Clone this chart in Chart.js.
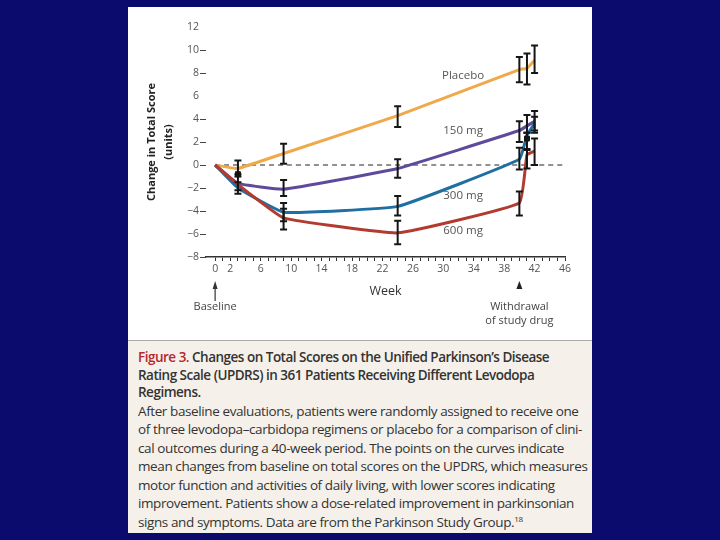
<!DOCTYPE html>
<html>
<head>
<meta charset="utf-8">
<script src="https://cdn.jsdelivr.net/npm/chart.js@4.4.1/dist/chart.umd.min.js"></script>
<style>
html, body { margin: 0; padding: 0; background: #0b0b6e; }
body { width: 720px; height: 540px; position: relative; overflow: hidden; }
#panel { position: absolute; left: 128px; top: 7px; width: 464px; height: 526px; background: #fff; }
#chartBox { position: absolute; left: 0; top: 0; width: 464px; height: 333px; }
#caption {
  position: absolute; left: 0; top: 333px; width: 464px; height: 193px;
  background: #f5f1ea; border-top: 1px solid #aaa; box-sizing: border-box;
  padding: 8px 0 0 10px; font-family: "Open Sans", sans-serif; color: #333; white-space: nowrap;
}
.ttl { font-size: 13.5px; font-weight: 600; line-height: 17.5px; letter-spacing: -0.5px; }
.fig { color: #b5282e; }
.txt { font-size: 13.5px; line-height: 18.5px; letter-spacing: -0.4px; }
sup { font-size: 8px; line-height: 0; vertical-align: 5px; }
</style>
</head>
<body>
<div id="panel">
  <div id="chartBox"><canvas id="myChart" width="464" height="333"></canvas></div>
  <div id="caption">
    <div class="ttl"><span class="fig">Figure 3.</span> Changes on Total Scores on the Unified Parkinson’s Disease<br>Rating Scale (UPDRS) in 361 Patients Receiving Different Levodopa<br>Regimens.</div>
    <div class="txt">After baseline evaluations, patients were randomly assigned to receive one<br>of three levodopa–carbidopa regimens or placebo for a comparison of clini-<br>cal outcomes during a 40-week period. The points on the curves indicate<br>mean changes from baseline on total scores on the UPDRS, which measures<br>motor function and activities of daily living, with lower scores indicating<br>improvement. Patients show a dose-related improvement in parkinsonian<br>signs and symptoms. Data are from the Parkinson Study Group.<sup>18</sup></div>
  </div>
</div>
<script>
// weeks of measurement
const weeks = [0, 3, 9, 24, 40, 41, 42]

// mean change in total score
const placebo = [0, -0.3, 1.0, 4.3, 8.3, 8.4, 9.1]
const mg150 = [0, -1.6, -2.1, -0.3, 3.0, 3.4, 3.8]
const mg300 = [0, -2.0, -4.1, -3.6, 0.5, 2.6, 3.6]
const mg600 = [0, -1.7, -4.6, -5.9, -3.3, 0.9, 1.2]

// error bar ends (null = no bar)
const placeboLow = [null, -1.0, 0.1, 3.3, 7.2, 7.0, 8.0]
const placeboHigh = [null, 0.4, 1.85, 5.1, 9.4, 9.7, 10.4]
const mg150Low = [null, null, -2.7, -1.1, 2.0, 2.8, 2.8]
const mg150High = [null, null, -1.3, 0.5, 3.8, 4.35, 4.7]
const mg300Low = [null, -2.5, -4.9, -4.4, -0.4, 1.4, 3.0]
const mg300High = [null, -1.5, -3.3, -2.7, 1.5, 2.8, 4.2]
const mg600Low = [null, -2.2, -5.6, -6.9, -4.4, -0.3, 0.0]
const mg600High = [null, -0.8, -3.8, -4.85, -2.3, 1.3, 2.3]

// filled square points
const markerWeeks = [3, 41]
const markerValues = [-0.8, 2.3]

// axes
const xTickWeeks = []
for (let w = 0; w <= 46; w++) xTickWeeks.push(w)
const xLabels = [0, 2, 6, 10, 14, 18, 22, 26, 30, 34, 38, 42, 46]
const yTicks = [-8, -6, -4, -2, 0, 2, 4, 6, 8, 10, 12]

const seriesNames = ['Placebo', '150 mg', '300 mg', '600 mg']

function pts(vals) {
    return weeks.map((w, i) => ({ x: w, y: vals[i] }))
}

const errorBars = {
    id: 'errorBars',
    afterDatasetsDraw(chart) {
        const { ctx, scales: { x, y } } = chart
        ctx.save()
        ctx.strokeStyle = '#151515'
        ctx.lineWidth = 2
        chart.data.datasets.forEach(ds => {
            if (!ds.errLow) return
            ds.data.forEach((p, i) => {
                const lo = ds.errLow[i], hi = ds.errHigh[i]
                if (lo == null) return
                const px = x.getPixelForValue(p.x)
                const yl = y.getPixelForValue(lo)
                const yh = y.getPixelForValue(hi)
                ctx.beginPath()
                ctx.moveTo(px, yl); ctx.lineTo(px, yh)
                ctx.moveTo(px - 3.5, yl); ctx.lineTo(px + 3.5, yl)
                ctx.moveTo(px - 3.5, yh); ctx.lineTo(px + 3.5, yh)
                ctx.stroke()
            })
        })
        ctx.restore()
    }
}

// curve names and the notes under the x axis
const notes = {
    id: 'notes',
    afterDraw(chart) {
        const { ctx, scales: { x, y } } = chart
        ctx.save()
        ctx.fillStyle = '#555'
        ctx.font = '11.5px "Open Sans"'
        ctx.textAlign = 'center'
        ctx.textBaseline = 'middle'
        const spots = [[32.6, 7.8], [32.6, 2.95], [32.6, -2.7], [32.6, -5.7]]
        seriesNames.forEach((n, i) => {
            ctx.fillText(n, x.getPixelForValue(spots[i][0]), y.getPixelForValue(spots[i][1]))
        })

        // baseline arrow
        ctx.fillStyle = '#333'
        ctx.strokeStyle = '#333'
        ctx.lineWidth = 1.2
        const bx = x.getPixelForValue(0)
        ctx.beginPath()
        ctx.moveTo(bx, 280); ctx.lineTo(bx, 294)
        ctx.stroke()
        ctx.beginPath()
        ctx.moveTo(bx, 274); ctx.lineTo(bx - 2.5, 282); ctx.lineTo(bx + 2.5, 282)
        ctx.closePath(); ctx.fill()
        ctx.fillStyle = '#444'
        ctx.font = '11px "Open Sans"'
        ctx.fillText('Baseline', bx, 300)

        // withdrawal marker
        const wx = x.getPixelForValue(40)
        ctx.fillStyle = '#222'
        ctx.beginPath()
        ctx.moveTo(wx, 274); ctx.lineTo(wx - 3, 282); ctx.lineTo(wx + 3, 282)
        ctx.closePath(); ctx.fill()
        ctx.fillStyle = '#444'
        ctx.fillText('Withdrawal', wx, 300)
        ctx.fillText('of study drug', wx, 314)
        ctx.restore()
    }
}

const ctx = document.getElementById('myChart')

new Chart(ctx, {
    type: 'line',
    data: {
        datasets: [
            {
                label: 'markers',
                data: markerWeeks.map((w, i) => ({ x: w, y: markerValues[i] })),
                showLine: false,
                pointStyle: 'rect',
                pointRadius: 3.5,
                backgroundColor: '#151515',
                borderColor: '#151515'
            },
            {
                label: seriesNames[3],
                data: pts(mg600),
                errLow: mg600Low, errHigh: mg600High,
                borderColor: '#b23a2f', borderWidth: 3
            },
            {
                label: seriesNames[2],
                data: pts(mg300),
                errLow: mg300Low, errHigh: mg300High,
                borderColor: '#1f6fa3', borderWidth: 3
            },
            {
                label: seriesNames[1],
                data: pts(mg150),
                errLow: mg150Low, errHigh: mg150High,
                borderColor: '#5d4a9b', borderWidth: 3
            },
            {
                label: seriesNames[0],
                data: pts(placebo),
                errLow: placeboLow, errHigh: placeboHigh,
                borderColor: '#f0a94a', borderWidth: 3
            },
            {
                label: 'zero',
                data: [{ x: 0, y: 0 }, { x: 46, y: 0 }],
                borderColor: '#222', borderWidth: 1, borderDash: [5, 4]
            }
        ]
    },
    options: {
        responsive: false,
        animation: false,
        elements: {
            line: { tension: 0.1, fill: false },
            point: { radius: 0 }
        },
        layout: { padding: { top: 20, right: 27, bottom: 33, left: 0 } },
        plugins: {
            legend: { display: false },
            tooltip: { enabled: false }
        },
        scales: {
            x: {
                type: 'linear',
                min: -1.2,
                max: 46,
                afterBuildTicks: s => { s.ticks = xTickWeeks.map(v => ({ value: v })) },
                afterFit: s => { s.height = 50 },
                ticks: {
                    autoSkip: false,
                    maxRotation: 0,
                    padding: 2,
                    color: '#555',
                    font: { family: 'Open Sans', size: 10.5 },
                    callback: v => xLabels.includes(v) ? String(v) : ''
                },
                grid: { drawOnChartArea: false, tickLength: 4, color: '#333' },
                border: { color: '#333', width: 1.5 },
                title: {
                    display: true,
                    text: 'Week',
                    color: '#333',
                    font: { family: 'Open Sans', size: 12.5 },
                    padding: { top: 0, bottom: 8.5 }
                }
            },
            y: {
                min: -8,
                max: 12,
                afterBuildTicks: s => { s.ticks = yTicks.map(v => ({ value: v })) },
                afterFit: s => { s.width = 78 },
                ticks: {
                    padding: 1,
                    color: '#555',
                    font: { family: 'Open Sans', size: 10.5 },
                    callback: v => v < 0 ? '\u2212' + Math.abs(v) : String(v)
                },
                grid: {
                    drawOnChartArea: false,
                    tickLength: 6,
                    color: c => (c.tick && (c.tick.value === 12 || c.tick.value === 6)) ? 'rgba(0,0,0,0)' : '#444'
                },
                border: { display: false },
                title: {
                    display: true,
                    text: ['Change in Total Score', '(units)'],
                    color: '#222',
                    font: { family: 'Open Sans', size: 11, weight: 'bold', lineHeight: 1.55 },
                    padding: { top: 15.5, bottom: 0 }
                }
            }
        }
    },
    plugins: [errorBars, notes]
})
</script>
</body>
</html>
